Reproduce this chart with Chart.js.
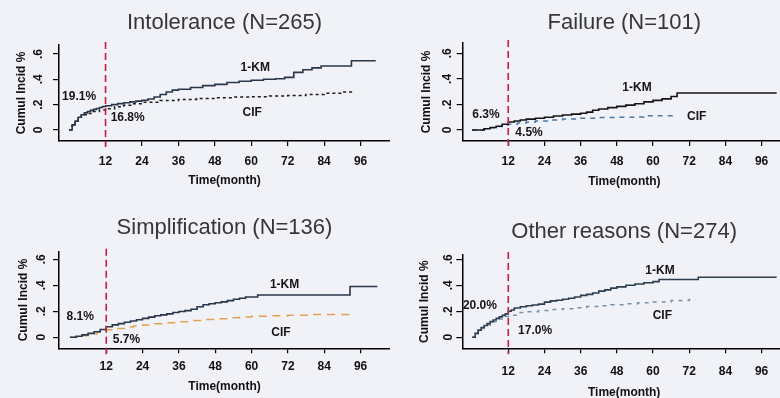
<!DOCTYPE html>
<html>
<head>
<meta charset="utf-8">
<script src="https://cdn.jsdelivr.net/npm/chart.js@4.4.1/dist/chart.umd.min.js"></script>
<style>
  html, body { margin: 0; padding: 0; background: #f0f2f7; }
  body { width: 780px; height: 398px; overflow: hidden; position: relative; }
  canvas { position: absolute; }
</style>
</head>
<body>
<canvas id="c1" width="390" height="199" style="left:0;top:0"></canvas>
<canvas id="c2" width="396" height="199" style="left:390px;top:0"></canvas>
<canvas id="c3" width="390" height="205" style="left:0;top:199px"></canvas>
<canvas id="c4" width="396" height="205" style="left:390px;top:199px"></canvas>
<script>
// ticks
const xTicks = [12, 24, 36, 48, 60, 72, 84, 96];
const yTicks = [0, 0.2, 0.4, 0.6];
const landmark = 12;

// Intolerance (N=265)
const intolKmMonths = [0, 1, 2, 3, 4, 5, 6, 7, 8, 9, 10, 11, 12, 14, 16, 18, 20, 22, 24, 26, 28, 30, 32, 34, 36, 40, 44, 48, 52, 56, 60, 64, 68, 71, 74, 77, 80, 83, 93, 101];
const intolKmRisk = [0, .04, .07, .10, .12, .135, .145, .155, .163, .17, .178, .185, .191, .20, .208, .215, .222, .228, .235, .245, .26, .28, .30, .315, .322, .335, .35, .36, .375, .385, .393, .40, .405, .415, .455, .475, .49, .505, .547, .547];
const intolCifMonths = [0, 1, 2, 3, 4, 5, 6, 8, 10, 12, 15, 18, 21, 24, 30, 36, 42, 48, 54, 60, 66, 72, 78, 84, 90, 94];
const intolCifRisk = [0, .035, .065, .09, .11, .12, .13, .145, .157, .168, .183, .195, .207, .218, .232, .24, .248, .255, .26, .263, .268, .272, .28, .29, .30, .305];

// Failure (N=101)
const failKmMonths = [0, 4, 6, 8, 10, 12, 14, 16, 18, 21, 24, 27, 30, 33, 36, 38, 40, 42, 45, 48, 51, 54, 57, 60, 63, 66, 68, 101];
const failKmRisk = [0, .01, .02, .03, .045, .063, .07, .078, .085, .092, .10, .11, .118, .124, .131, .14, .155, .165, .175, .185, .195, .205, .22, .232, .244, .262, .29, .29];
const failCifMonths = [0, 4, 6, 8, 10, 12, 15, 18, 21, 25, 30, 36, 42, 48, 54, 57, 68];
const failCifRisk = [0, .008, .017, .027, .037, .045, .055, .063, .07, .078, .086, .092, .097, .099, .101, .112, .112];

// Simplification (N=136)
const simpKmMonths = [0, 2, 4, 6, 8, 10, 12, 14, 16, 18, 20, 22, 24, 26, 28, 30, 32, 34, 36, 38, 40, 42, 44, 46, 48, 50, 52, 54, 56, 58, 62, 92.5, 101.5];
const simpKmRisk = [0, .008, .018, .03, .042, .06, .081, .095, .105, .115, .125, .135, .145, .155, .165, .172, .18, .19, .198, .205, .215, .235, .25, .258, .265, .272, .282, .292, .30, .31, .325, .39, .39];
const simpCifMonths = [0, 3, 6, 9, 12, 15, 18, 21, 24, 28, 32, 36, 40, 44, 48, 52, 56, 60, 66, 72, 80, 92];
const simpCifRisk = [0, .012, .025, .04, .057, .068, .078, .087, .095, .104, .112, .12, .128, .136, .143, .15, .156, .161, .166, .17, .175, .178];

// Other reasons (N=274)
const otherKmMonths = [0, 1, 2, 3, 4, 5, 6, 7, 8, 9, 10, 11, 12, 13, 14, 16, 18, 20, 22, 24, 26, 28, 30, 32, 34, 36, 38, 40, 42, 44, 46, 48, 51, 54, 57, 60, 62, 75, 101];
const otherKmRisk = [0, .03, .055, .075, .09, .105, .12, .133, .145, .157, .168, .18, .20, .21, .225, .235, .242, .248, .255, .27, .28, .285, .293, .30, .31, .322, .33, .34, .355, .365, .378, .388, .40, .41, .42, .428, .445, .462, .462];
const otherCifMonths = [0, 1, 2, 3, 4, 5, 6, 7, 8, 9, 10, 11, 12, 15, 18, 22, 26, 30, 34, 38, 42, 46, 50, 55, 60, 66, 72, 74];
const otherCifRisk = [0, .028, .05, .067, .08, .095, .108, .12, .13, .14, .15, .16, .17, .19, .197, .205, .213, .22, .228, .236, .243, .25, .258, .265, .272, .282, .29, .292];

const pts = (ms, vs) => ms.map((m, i) => ({ x: m, y: vs[i] }));
const FONT = '"Liberation Sans", Arial, sans-serif';

// layout of each panel
const panels = [
  {
    id: 'c1', title: 'Intolerance (N=265)',
    km: pts(intolKmMonths, intolKmRisk), cif: pts(intolCifMonths, intolCifRisk),
    kmColor: '#27364a', cifColor: '#1a1a1a', cifDash: [3, 3],
    xr: [-3.33, 105.7], yr: [-0.087, 0.671],
    yW: 59, xH: 58, tPad: [9.8, 8.8], yTitlePad: 14.5, yTickPad: 9.7, xTickPad: 8.8, xTitlePad: 11.3,
    notes: [['19.1%', 3.3, 0.26], ['16.8%', 19.3, 0.095], ['1-KM', 61.3, 0.49], ['CIF', 60.3, 0.134]]
  },
  {
    id: 'c2', title: 'Failure (N=101)',
    km: pts(failKmMonths, failKmRisk), cif: pts(failCifMonths, failCifRisk),
    kmColor: '#141414', cifColor: '#4a78a8', cifDash: [5, 5],
    xr: [-3.1, 104.1], yr: [-0.086, 0.681],
    yW: 72.7, xH: 58, tPad: [9.8, 6.8], yTitlePad: 29.5, yTickPad: 4.4, xTickPad: 8.5, xTitlePad: 10.1,
    notes: [['6.3%', 4.6, 0.118], ['4.5%', 18.9, -0.018], ['1-KM', 54.7, 0.33], ['CIF', 74.5, 0.105]]
  },
  {
    id: 'c3', title: 'Simplification (N=136)',
    km: pts(simpKmMonths, simpKmRisk), cif: pts(simpCifMonths, simpCifRisk),
    kmColor: '#27364a', cifColor: '#e3a253', cifDash: [8, 6],
    xr: [-3.6, 105.7], yr: [-0.085, 0.658],
    yW: 59, xH: 55.7, tPad: [15.8, 10.5], yTitlePad: 16.1, yTickPad: 6.3, xTickPad: 6.2, xTitlePad: 10.1,
    notes: [['8.1%', 3.4, 0.158], ['5.7%', 18.7, -0.02], ['1-KM', 70.9, 0.402], ['CIF', 69.7, 0.035]]
  },
  {
    id: 'c4', title: 'Other reasons (N=274)',
    km: pts(otherKmMonths, otherKmRisk), cif: pts(otherCifMonths, otherCifRisk),
    kmColor: '#2b3d4f', cifColor: '#7890a8', cifDash: [4, 5],
    xr: [-3.25, 104.1], yr: [-0.085, 0.633],
    yW: 72.3, xH: 55.7, tPad: [19.8, 9.8], yTitlePad: 27.8, yTickPad: 3, xTickPad: 11.2, xTitlePad: 4.1,
    notes: [['20.0%', 2.6, 0.241], ['17.0%', 20.9, 0.048], ['1-KM', 62.3, 0.512], ['CIF', 63.1, 0.164]]
  }
];

// landmark line + text labels
const notesPlugin = {
  id: 'notes',
  afterDatasetsDraw(chart, args, opts) {
    const { ctx, chartArea, scales: { x, y } } = chart;
    const lx = x.getPixelForValue(landmark);
    ctx.save();
    ctx.strokeStyle = '#c41e3f';
    ctx.lineWidth = 1.6;
    ctx.setLineDash([7, 4]);
    ctx.beginPath();
    ctx.moveTo(lx, chartArea.top - 3);
    ctx.lineTo(lx, chartArea.bottom + 6);
    ctx.stroke();
    ctx.setLineDash([]);
    ctx.font = 'bold 12px ' + FONT;
    ctx.fillStyle = '#151515';
    ctx.textAlign = 'center';
    ctx.textBaseline = 'middle';
    opts.items.forEach(n => ctx.fillText(n[0], x.getPixelForValue(n[1]), y.getPixelForValue(n[2])));
    ctx.restore();
  }
};

panels.forEach(p => {
  new Chart(document.getElementById(p.id), {
    type: 'line',
    data: {
      datasets: [
        { label: '1-KM', data: p.km, borderColor: p.kmColor, borderWidth: 1.6, stepped: true, pointRadius: 0 },
        { label: 'CIF', data: p.cif, borderColor: p.cifColor, borderWidth: 1.5, borderDash: p.cifDash, stepped: true, pointRadius: 0 }
      ]
    },
    options: {
      responsive: false,
      animation: false,
      devicePixelRatio: 1,
      layout: { padding: 0 },
      plugins: {
        legend: { display: false },
        tooltip: { enabled: false },
        title: {
          display: true, text: p.title, fullSize: false, color: '#363636',
          font: { family: FONT, size: 22, weight: 'normal' },
          padding: { top: p.tPad[0], bottom: p.tPad[1] }
        },
        notes: { items: p.notes }
      },
      scales: {
        x: {
          type: 'linear', min: p.xr[0], max: p.xr[1],
          afterBuildTicks: s => { s.ticks = xTicks.map(v => ({ value: v })); },
          afterFit: s => { s.height = p.xH; },
          grid: { drawOnChartArea: false, tickLength: 5, color: '#000', lineWidth: 1.2 },
          border: { display: true, color: '#000', width: 1.5 },
          ticks: { color: '#111', padding: p.xTickPad, maxRotation: 0, font: { family: FONT, size: 12, weight: 'bold' } },
          title: { display: true, text: 'Time(month)', color: '#111', padding: { bottom: p.xTitlePad }, font: { family: FONT, size: 12, weight: 'bold' } }
        },
        y: {
          type: 'linear', min: p.yr[0], max: p.yr[1],
          afterBuildTicks: s => { s.ticks = yTicks.map(v => ({ value: v })); },
          afterFit: s => { s.width = p.yW; },
          grid: { drawOnChartArea: false, tickLength: 6, color: '#000', lineWidth: 1.2 },
          border: { display: true, color: '#000', width: 1.5 },
          ticks: {
            color: '#111', padding: p.yTickPad, minRotation: 90, maxRotation: 90, crossAlign: 'center',
            font: { family: FONT, size: 12, weight: 'bold' },
            callback: v => String(v).replace('0.', '.')
          },
          title: { display: true, text: 'Cumul Incid %', color: '#111', padding: { top: p.yTitlePad }, font: { family: FONT, size: 12, weight: 'bold' } }
        }
      }
    },
    plugins: [notesPlugin]
  });
});
</script>
</body>
</html>
